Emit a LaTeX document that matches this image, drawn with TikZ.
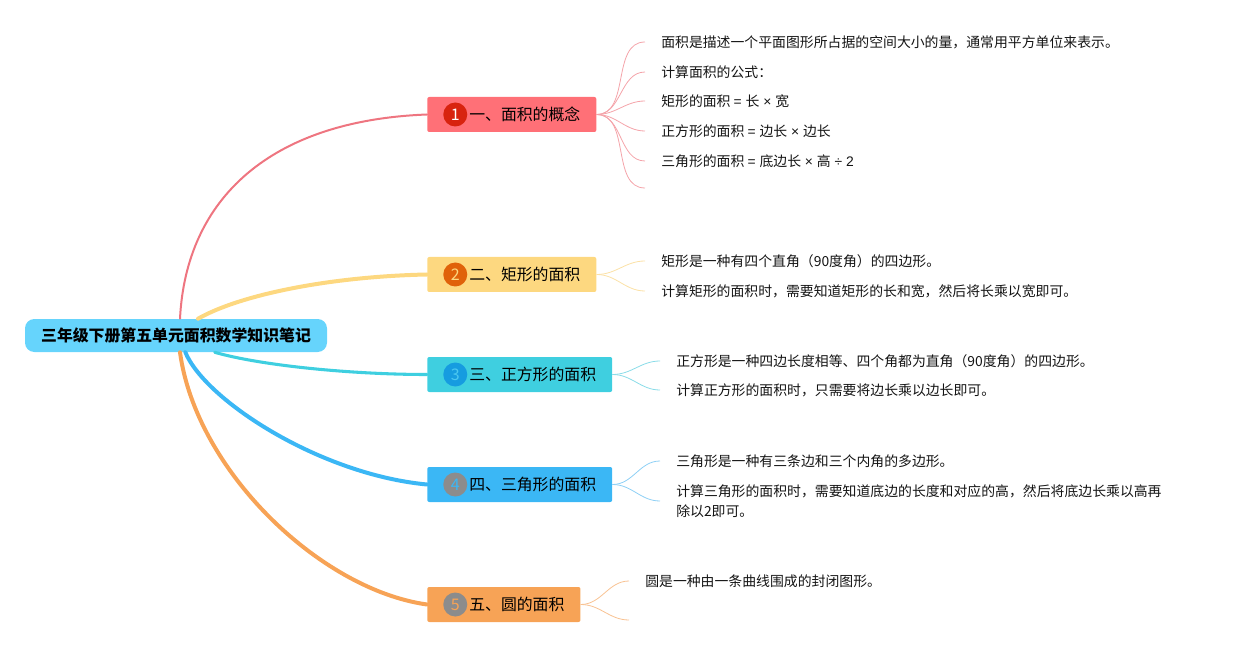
\documentclass[tikz,border=0pt]{standalone}
\usepackage{fontspec}
\setmainfont{Noto Sans CJK SC}
\newfontfamily\symfont{Liberation Sans}
\usetikzlibrary{positioning}
\definecolor{rootfill}{HTML}{66D4FC}
\definecolor{redfill}{HTML}{FF7077}
\definecolor{redline}{HTML}{EE7580}
\definecolor{redtwig}{HTML}{F4A3A9}
\definecolor{reddot}{HTML}{D8230F}
\definecolor{yelfill}{HTML}{FDD880}
\definecolor{yeltwig}{HTML}{FBE1A6}
\definecolor{yeldot}{HTML}{E0620A}
\definecolor{cyanfill}{HTML}{3FCFE0}
\definecolor{cyantwig}{HTML}{8ADCE8}
\definecolor{cyandot}{HTML}{169CE0}
\definecolor{cyannum}{HTML}{4CC8F0}
\definecolor{bluefill}{HTML}{3BB7F5}
\definecolor{bluetwig}{HTML}{8ED0F5}
\definecolor{orafill}{HTML}{F7A356}
\definecolor{oratwig}{HTML}{F8C292}
\definecolor{greydot}{HTML}{8C8C8C}
\tikzset{
  root/.style={fill=rootfill, rounded corners=7pt, minimum width=226.5pt, minimum height=24.75pt, inner sep=0pt, font=\bfseries\fontsize{11.9pt}{14pt}\selectfont},
  topic/.style={fill=#1, rounded corners=1.5pt, anchor=west, minimum height=26.25pt, inner xsep=12pt, inner ysep=0pt, font=\fontsize{11.9pt}{14pt}\selectfont},
  badge/.style={circle, inner sep=0pt, minimum size=18pt, font=\fontsize{12pt}{14pt}\selectfont},
  leaf/.style={anchor=west, inner xsep=12pt, inner ysep=1pt, align=left, text=black!92, font=\fontsize{10.4pt}{15pt}\selectfont},
  stem/.style={line width=#1, line cap=round},
  twig/.style={draw=#1, line width=0.6pt},
}
\begin{document}
\begin{tikzpicture}[x=0.75pt, y=-0.75pt]
\useasboundingbox (0,0) rectangle (1237,648);
\node[root] (root) at (176,335.5) {三年级下册第五单元面积数学知识笔记};

\node[topic=redfill] (t1) at (427,114.5) {\hspace{19.5pt}一、面积的概念};
\node[badge, fill=reddot, text=white, right=12pt of t1.west] (n1) {1};
\node[topic=yelfill] (t2) at (427,274.5) {\hspace{19.5pt}二、矩形的面积};
\node[badge, fill=yeldot, text=yelfill, right=12pt of t2.west] (n2) {2};
\node[topic=cyanfill] (t3) at (427,374.5) {\hspace{19.5pt}三、正方形的面积};
\node[badge, fill=cyandot, text=cyannum, right=12pt of t3.west] (n3) {3};
\node[topic=bluefill] (t4) at (427,484.5) {\hspace{19.5pt}四、三角形的面积};
\node[badge, fill=greydot, text=bluefill, right=12pt of t4.west] (n4) {4};
\node[topic=orafill] (t5) at (427,604.5) {\hspace{19.5pt}五、圆的面积};
\node[badge, fill=greydot, text=orafill, right=12pt of t5.west] (n5) {5};

\draw[stem=1.5pt, redline] ([xshift=3pt]root.north) .. controls +(6,-120) and +(-157,6) .. (t1.west);
\draw[stem=3pt, yelfill] ([xshift=16.5pt]root.north) .. controls +(42,-24) and +(-97,2) .. (t2.west);
\draw[stem=2.3pt, cyanfill] ([xshift=29pt]root.south) .. controls +(45,13) and +(-77,0) .. (t3.west);
\draw[stem=3pt, bluefill] ([xshift=7pt]root.south) .. controls +(20,48) and +(-107,-10) .. (t4.west);
\draw[stem=3pt, orafill] ([xshift=3pt]root.south) .. controls +(16,118) and +(-107,-15) .. (t5.west);

\node[leaf] (l11) at (645,42) {面积是描述一个平面图形所占据的空间大小的量，通常用平方单位来表示。};
\node[leaf] (l12) at (645,72) {计算面积的公式：};
\node[leaf] (l13) at (645,101) {矩形的面积 {\symfont= }长{\symfont\ × }宽};
\node[leaf] (l14) at (645,131) {正方形的面积 {\symfont= }边长{\symfont\ × }边长};
\node[leaf] (l15) at (645,161) {三角形的面积 {\symfont= }底边长{\symfont\ × }高{\symfont\ ÷ 2}};
\coordinate (l16) at (645,188);
\foreach \i in {l11,l12,l13,l14,l15,l16}
  \draw[twig=redtwig] (t1.east) to[out=0, in=180] (\i.west);

\node[leaf] (l21) at (645,261) {矩形是一种有四个直角（90度角）的四边形。};
\node[leaf] (l22) at (645,291) {计算矩形的面积时，需要知道矩形的长和宽，然后将长乘以宽即可。};
\draw[twig=yeltwig] (t2.east) to[out=0, in=180] (l21.west);
\draw[twig=yeltwig] (t2.east) to[out=0, in=180] (l22.west);

\node[leaf] (l31) at (660,361) {正方形是一种四边长度相等、四个角都为直角（90度角）的四边形。};
\node[leaf] (l32) at (660,390) {计算正方形的面积时，只需要将边长乘以边长即可。};
\draw[twig=cyantwig] (t3.east) to[out=0, in=180] (l31.west);
\draw[twig=cyantwig] (t3.east) to[out=0, in=180] (l32.west);

\node[leaf] (l41) at (660,461) {三角形是一种有三条边和三个内角的多边形。};
\node[leaf] (l42) at (660,501) {计算三角形的面积时，需要知道底边的长度和对应的高，然后将底边长乘以高再\\除以2即可。};
\draw[twig=bluetwig] (t4.east) to[out=0, in=180] (l41.west);
\draw[twig=bluetwig] (t4.east) to[out=0, in=180] (l42.west);

\node[leaf] (l51) at (629,581) {圆是一种由一条曲线围成的封闭图形。};
\coordinate (l52) at (629,620);
\draw[twig=oratwig] (t5.east) to[out=0, in=180] (l51.west);
\draw[twig=oratwig] (t5.east) to[out=0, in=180] (l52);
\end{tikzpicture}
\end{document}
